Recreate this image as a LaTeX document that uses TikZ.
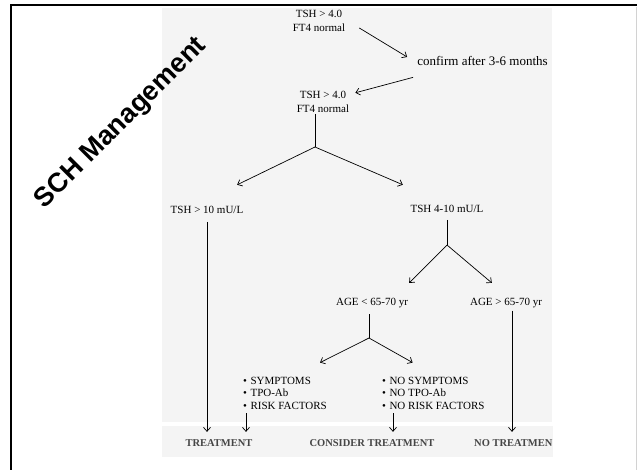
\documentclass[tikz,border=0pt]{standalone}
\usepackage{fontspec}
\setmainfont{Liberation Serif}
\newfontfamily\titlefont{Liberation Sans}
\usepackage{tikz}
\usetikzlibrary{arrows.meta}
\usepackage{xcolor}
\definecolor{panelgray}{RGB}{244,244,244}
\definecolor{endgray}{RGB}{70,70,70}
\newcommand{\bul}{\textbullet\hspace{3.5pt}}
\tikzset{
	flowtext/.style={font=\fontsize{11}{14}\selectfont, align=center, inner sep=1pt},
	listtext/.style={font=\fontsize{11}{12.5}\selectfont, align=left, anchor=west, inner sep=1pt},
	endtext/.style={font=\bfseries\fontsize{10.5}{12}\selectfont, text=endgray, anchor=base, inner sep=1pt},
	trunk/.style={line width=0.7pt},
	flow/.style={line width=0.7pt, -{Straight Barb[length=4pt,width=7pt]}},
}

\begin{document}
\begin{tikzpicture}[x=1pt,y=-1pt]
	\useasboundingbox (0,0) rectangle (637,470);
	\fill[panelgray] (162,8) rectangle (552,422);
	\fill[panelgray] (162,426) rectangle (553,457);
	\draw[line width=2.5pt] (11,470) -- (11,5) -- (637,5);
	\draw[gray!35, line width=1pt] (636,7) -- (636,470);
	
	\node[font=\titlefont\bfseries\fontsize{27}{27}\selectfont, rotate=45, anchor=base] at (126,128) (title) {SCH Management};
	
	\node[flowtext] at (319,20.5) (tsha) {TSH > 4.0\\FT4 normal};
	\node[flowtext, font=\fontsize{13}{14}\selectfont] at (482.5,61) (confirm) {confirm after 3-6 months};
	\node[flowtext] at (323,102) (tshb) {TSH > 4.0\\FT4 normal};
	\coordinate (splita) at (315,147);
	\node[flowtext] at (207,210) (tshhigh) {TSH > 10 mU/L};
	\node[flowtext] at (447,209) (tshmid) {TSH 4-10 mU/L};
	\coordinate (splitb) at (447,245);
	\node[flowtext] at (372,303) (ageyoung) {AGE < 65-70 yr};
	\node[flowtext] at (506,303) (ageold) {AGE > 65-70 yr};
	\coordinate (splitc) at (369,338);
	\node[listtext] at (242,393) (risk) {\bul SYMPTOMS\\\bul TPO-Ab\\\bul RISK FACTORS};
	\node[listtext] at (381,393) (norisk) {\bul NO SYMPTOMS\\\bul NO TPO-Ab\\\bul NO RISK FACTORS};
	\node[endtext] at (219,446) (treat) {TREATMENT};
	\node[endtext] at (372,446) (consider) {CONSIDER TREATMENT};
	\node[endtext, anchor=base west] at (473,446) (notreat) {NO TREATMEN};
	
	\coordinate (highfoot) at ([shift={(0,7)}]tshhigh.south);
	\coordinate (midfoot) at ([shift={(0,6)}]tshmid.south);
	\coordinate (youngfoot) at ([shift={(-3,5)}]ageyoung.south);
	\coordinate (oldfoot) at ([shift={(6,1.5)}]ageold.south);
	\coordinate (riskfoot) at ([shift={(4,3)}]risk.south west);
	\coordinate (noriskfoot) at ([shift={(12,3)}]norisk.south west);
	
	\draw[flow] ([shift={(13,7.5)}]tsha.east) -- ([shift={(-9,-4)}]confirm.west);
	\draw[flow] ([shift={(-3,10.5)}]confirm.south west) -- ([shift={(5,2.7)}]tshb.north east);
	\draw[trunk] (tshb.south -| splita) -- (splita);
	\draw[flow] (splita) -- ([shift={(-7.3,-20.3)}]tshhigh.north east);
	\draw[flow] (splita) -- ([shift={(-6.6,-19.3)}]tshmid.north west);
	\draw[flow, shorten >=6pt] (highfoot) -- (highfoot |- treat.north);
	\draw[trunk] (midfoot) -- (splitb);
	\draw[flow] (splitb) -- ([shift={(0,-14)}]ageyoung.north east);
	\draw[flow] (splitb) -- ([shift={(23,-14)}]ageold.north west);
	\draw[trunk] (youngfoot) -- (splitc);
	\draw[flow] (splitc) -- ([shift={(35,-13)}]risk.north);
	\draw[flow] (splitc) -- ([shift={(-20.7,-13)}]norisk.north);
	\draw[flow, shorten >=6pt] (oldfoot) -- (oldfoot |- notreat.north);
	\draw[flow, shorten >=6pt] (riskfoot) -- (riskfoot |- treat.north);
	\draw[flow, shorten >=6pt] (noriskfoot) -- (noriskfoot |- consider.north);
\end{tikzpicture}
\end{document}
